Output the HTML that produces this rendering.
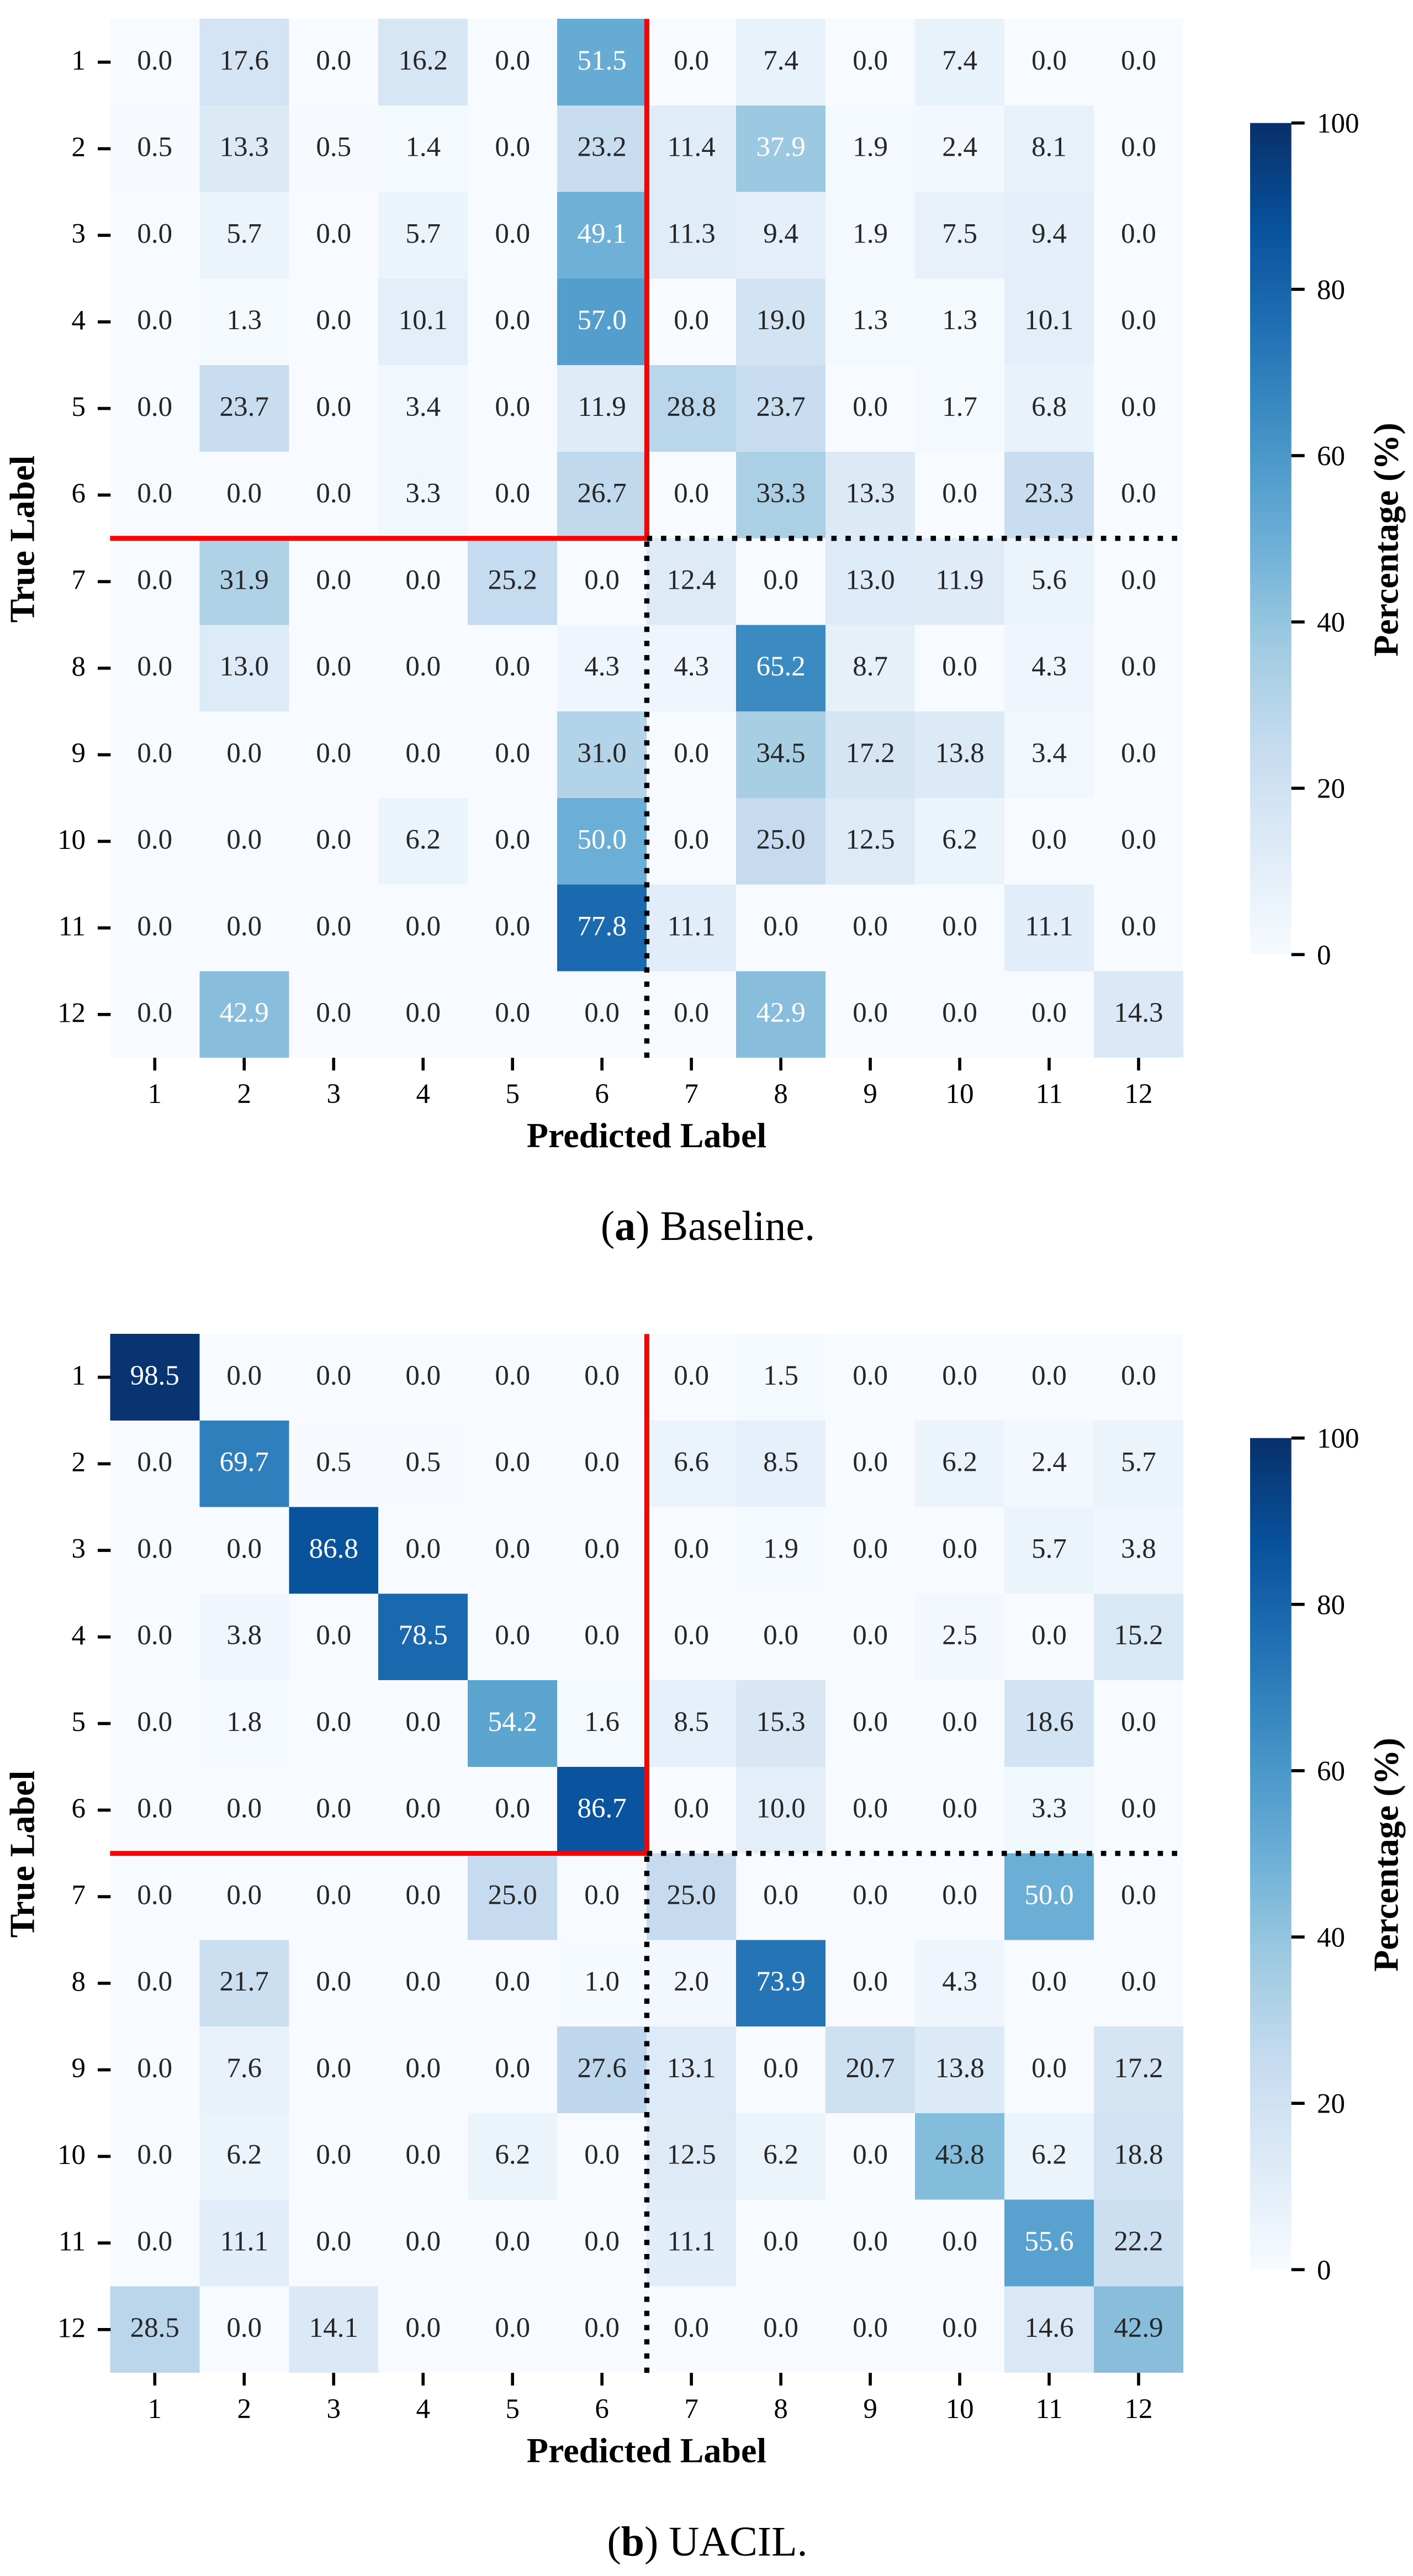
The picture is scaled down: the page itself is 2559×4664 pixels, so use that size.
<!DOCTYPE html>
<html lang="en">
<head>
<meta charset="utf-8">
<title>Confusion matrices: Baseline and UACIL</title>
<style>
  html, body { margin: 0; padding: 0; background: #ffffff; }
  body { width: 2559px; height: 4664px; overflow: hidden; }
  svg { display: block; font-family: "Liberation Serif", "Times New Roman", serif; }
  .axis-title { font-size: 64px; font-weight: bold; fill: #000000; }
  .caption { font-size: 76px; fill: #000000; }
  .tick-label { font-size: 51px; fill: #000000; }
  .annot { font-size: 51px; }
</style>
</head>
<body>
<svg id="figure" xmlns="http://www.w3.org/2000/svg" width="2559" height="4664" viewBox="0 0 2559 4664">
  <defs>
    <linearGradient id="blues-gradient" x1="0" y1="1" x2="0" y2="0"></linearGradient>
  </defs>
  <rect x="0" y="0" width="2559" height="4664" fill="#ffffff"></rect>

  <g id="panel-a">
    <g id="panel-a-plot"></g>
    <text class="axis-title" x="1171" y="2077" text-anchor="middle">Predicted Label</text>
    <text class="axis-title" transform="translate(61.5,976) rotate(-90)" text-anchor="middle">True Label</text>
    <text class="axis-title" transform="translate(2531.5,977) rotate(-90)" text-anchor="middle">Percentage (%)</text>
  </g>
  <text class="caption" x="1282" y="2245" text-anchor="middle">(<tspan font-weight="bold">a</tspan>) Baseline.</text>

  <g id="panel-b" transform="translate(0,2381)">
    <g id="panel-b-plot"></g>
    <text class="axis-title" x="1171" y="2077" text-anchor="middle">Predicted Label</text>
    <text class="axis-title" transform="translate(61.5,976) rotate(-90)" text-anchor="middle">True Label</text>
    <text class="axis-title" transform="translate(2531.5,977) rotate(-90)" text-anchor="middle">Percentage (%)</text>
  </g>
  <text class="caption" x="1281" y="4627" text-anchor="middle">(<tspan font-weight="bold">b</tspan>) UACIL.</text>
</svg>

<script>
// Class labels shared by both axes
const classLabels = ['1', '2', '3', '4', '5', '6', '7', '8', '9', '10', '11', '12'];

// Baseline confusion matrix (percent), rows = true label, columns = predicted label
const baselineValues = [
  [0.0, 17.6, 0.0, 16.2, 0.0, 51.5, 0.0, 7.4, 0.0, 7.4, 0.0, 0.0],
  [0.5, 13.3, 0.5, 1.4, 0.0, 23.2, 11.4, 37.9, 1.9, 2.4, 8.1, 0.0],
  [0.0, 5.7, 0.0, 5.7, 0.0, 49.1, 11.3, 9.4, 1.9, 7.5, 9.4, 0.0],
  [0.0, 1.3, 0.0, 10.1, 0.0, 57.0, 0.0, 19.0, 1.3, 1.3, 10.1, 0.0],
  [0.0, 23.7, 0.0, 3.4, 0.0, 11.9, 28.8, 23.7, 0.0, 1.7, 6.8, 0.0],
  [0.0, 0.0, 0.0, 3.3, 0.0, 26.7, 0.0, 33.3, 13.3, 0.0, 23.3, 0.0],
  [0.0, 31.9, 0.0, 0.0, 25.2, 0.0, 12.4, 0.0, 13.0, 11.9, 5.6, 0.0],
  [0.0, 13.0, 0.0, 0.0, 0.0, 4.3, 4.3, 65.2, 8.7, 0.0, 4.3, 0.0],
  [0.0, 0.0, 0.0, 0.0, 0.0, 31.0, 0.0, 34.5, 17.2, 13.8, 3.4, 0.0],
  [0.0, 0.0, 0.0, 6.2, 0.0, 50.0, 0.0, 25.0, 12.5, 6.2, 0.0, 0.0],
  [0.0, 0.0, 0.0, 0.0, 0.0, 77.8, 11.1, 0.0, 0.0, 0.0, 11.1, 0.0],
  [0.0, 42.9, 0.0, 0.0, 0.0, 0.0, 0.0, 42.9, 0.0, 0.0, 0.0, 14.3]
];

// UACIL confusion matrix (percent)
const uacilValues = [
  [98.5, 0.0, 0.0, 0.0, 0.0, 0.0, 0.0, 1.5, 0.0, 0.0, 0.0, 0.0],
  [0.0, 69.7, 0.5, 0.5, 0.0, 0.0, 6.6, 8.5, 0.0, 6.2, 2.4, 5.7],
  [0.0, 0.0, 86.8, 0.0, 0.0, 0.0, 0.0, 1.9, 0.0, 0.0, 5.7, 3.8],
  [0.0, 3.8, 0.0, 78.5, 0.0, 0.0, 0.0, 0.0, 0.0, 2.5, 0.0, 15.2],
  [0.0, 1.8, 0.0, 0.0, 54.2, 1.6, 8.5, 15.3, 0.0, 0.0, 18.6, 0.0],
  [0.0, 0.0, 0.0, 0.0, 0.0, 86.7, 0.0, 10.0, 0.0, 0.0, 3.3, 0.0],
  [0.0, 0.0, 0.0, 0.0, 25.0, 0.0, 25.0, 0.0, 0.0, 0.0, 50.0, 0.0],
  [0.0, 21.7, 0.0, 0.0, 0.0, 1.0, 2.0, 73.9, 0.0, 4.3, 0.0, 0.0],
  [0.0, 7.6, 0.0, 0.0, 0.0, 27.6, 13.1, 0.0, 20.7, 13.8, 0.0, 17.2],
  [0.0, 6.2, 0.0, 0.0, 6.2, 0.0, 12.5, 6.2, 0.0, 43.8, 6.2, 18.8],
  [0.0, 11.1, 0.0, 0.0, 0.0, 0.0, 11.1, 0.0, 0.0, 0.0, 55.6, 22.2],
  [28.5, 0.0, 14.1, 0.0, 0.0, 0.0, 0.0, 0.0, 0.0, 0.0, 14.6, 42.9]
];

// Colorbar tick labels
const colorbarTicks = [0, 20, 40, 60, 80, 100];

// Number of classes in the "known" block marked by the red lines
const knownClassCount = 6;

// Blues colormap anchors
const bluesAnchors = [
  [247, 251, 255], [222, 235, 247], [198, 219, 239], [158, 202, 225],
  [107, 174, 214], [66, 146, 198], [33, 113, 181], [8, 81, 156], [8, 48, 107]
];

const SVG_NS = 'http://www.w3.org/2000/svg';
const PLOT = { left: 199.3, right: 2143, top: 34.2, bottom: 1915.2 };
const BAR = { left: 2264, right: 2338.7, zero: 1728.3, full: 222.7 };
const VALUE_MAX = 100;

function xScale(col) {
  return PLOT.left + col * (PLOT.right - PLOT.left) / classLabels.length;
}
function yScale(row) {
  return PLOT.top + row * (PLOT.bottom - PLOT.top) / classLabels.length;
}
function barScale(value) {
  return BAR.zero + (BAR.full - BAR.zero) * value / VALUE_MAX;
}
function bluesColor(value) {
  const t = Math.max(0, Math.min(1, value / VALUE_MAX)) * (bluesAnchors.length - 1);
  const i = Math.min(Math.floor(t), bluesAnchors.length - 2);
  const f = t - i;
  const c = [0, 1, 2].map(function (k) {
    return Math.round(bluesAnchors[i][k] + (bluesAnchors[i + 1][k] - bluesAnchors[i][k]) * f);
  });
  return 'rgb(' + c.join(',') + ')';
}
function make(tag, attrs, parent) {
  const el = document.createElementNS(SVG_NS, tag);
  Object.keys(attrs).forEach(function (k) { el.setAttribute(k, attrs[k]); });
  parent.appendChild(el);
  return el;
}

// Colorbar gradient
const gradient = document.getElementById('blues-gradient');
bluesAnchors.forEach(function (anchor, i) {
  const pos = i / (bluesAnchors.length - 1);
  make('stop', { offset: pos, 'stop-color': bluesColor(pos * VALUE_MAX) }, gradient);
});

function drawPanel(prefix, groupId, values, whiteAbove) {
  const plot = document.getElementById(groupId);

  // Heatmap cells and annotations
  values.forEach(function (rowValues, r) {
    rowValues.forEach(function (v, c) {
      const cell = make('rect', {
        x: xScale(c), y: yScale(r),
        width: xScale(c + 1) - xScale(c), height: yScale(r + 1) - yScale(r),
        fill: bluesColor(v), 'shape-rendering': 'crispEdges'
      }, plot);
      
      
    });
  });
  values.forEach(function (rowValues, r) {
    rowValues.forEach(function (v, c) {
      const label = make('text', {
        class: 'annot',
        x: (xScale(c) + xScale(c + 1)) / 2,
        y: (yScale(r) + yScale(r + 1)) / 2 + 13.2,
        'text-anchor': 'middle',
        fill: v > whiteAbove ? '#ffffff' : '#262626'
      }, plot);
      
      
      label.textContent = v.toFixed(1);
    });
  });

  // Axis ticks and labels
  classLabels.forEach(function (name, i) {
    const cy = (yScale(i) + yScale(i + 1)) / 2;
    const yTick = make('line', { x1: 177, x2: PLOT.left + 1, y1: cy, y2: cy, stroke: '#000000', 'stroke-width': 5.6 }, plot);
    
    
    const yLabel = make('text', { class: 'tick-label', x: 155, y: cy + 13.6, 'text-anchor': 'end' }, plot);
    
    
    yLabel.textContent = name;

    const cx = (xScale(i) + xScale(i + 1)) / 2;
    const xTick = make('line', { x1: cx, x2: cx, y1: PLOT.bottom, y2: PLOT.bottom + 23, stroke: '#000000', 'stroke-width': 5.6 }, plot);
    
    
    const xLabel = make('text', { class: 'tick-label', x: cx, y: PLOT.bottom + 82, 'text-anchor': 'middle' }, plot);
    
    
    xLabel.textContent = name;
  });

  // Black dotted separators for the unknown block
  const sepX = xScale(knownClassCount) + 0.3;
  const sepY = yScale(knownClassCount);
  const dotH = make('line', {
    x1: sepX, x2: PLOT.right, y1: sepY, y2: sepY,
    stroke: '#000000', 'stroke-width': 9.4, 'stroke-dasharray': '9.6 16.1'
  }, plot);
  
  
  const dotV = make('line', {
    x1: sepX, x2: sepX, y1: PLOT.bottom, y2: sepY + 4,
    stroke: '#000000', 'stroke-width': 9.4, 'stroke-dasharray': '9.6 16.1'
  }, plot);
  
  

  // Red separators for the known block
  const redH = make('line', {
    x1: PLOT.left, x2: sepX, y1: sepY, y2: sepY,
    stroke: '#ff0000', 'stroke-width': 8.8
  }, plot);
  
  
  const redV = make('line', {
    x1: sepX, x2: sepX, y1: PLOT.top, y2: sepY + 4.4,
    stroke: '#ff0000', 'stroke-width': 9.2
  }, plot);
  
  

  // First dot sits on top of the red corner
  const cornerDot = make('rect', { x: sepX, y: sepY - 4.7, width: 9.6, height: 9.4, fill: '#000000' }, plot);
  
  

  // Colorbar
  const bar = make('rect', {
    x: BAR.left, y: barScale(VALUE_MAX),
    width: BAR.right - BAR.left, height: barScale(0) - barScale(VALUE_MAX),
    fill: 'url(#blues-gradient)'
  }, plot);
  
  

  colorbarTicks.forEach(function (t) {
    const ty = barScale(t);
    const tick = make('line', { x1: BAR.right, x2: BAR.right + 24, y1: ty, y2: ty, stroke: '#000000', 'stroke-width': 5.6 }, plot);
    
    
    const label = make('text', { class: 'tick-label', x: 2385, y: ty + 17.5 }, plot);
    
    
    label.textContent = String(t);
  });
}

drawPanel('baseline', 'panel-a-plot', baselineValues, 35);
drawPanel('uacil', 'panel-b-plot', uacilValues, 47);
</script>
</body>
</html>
